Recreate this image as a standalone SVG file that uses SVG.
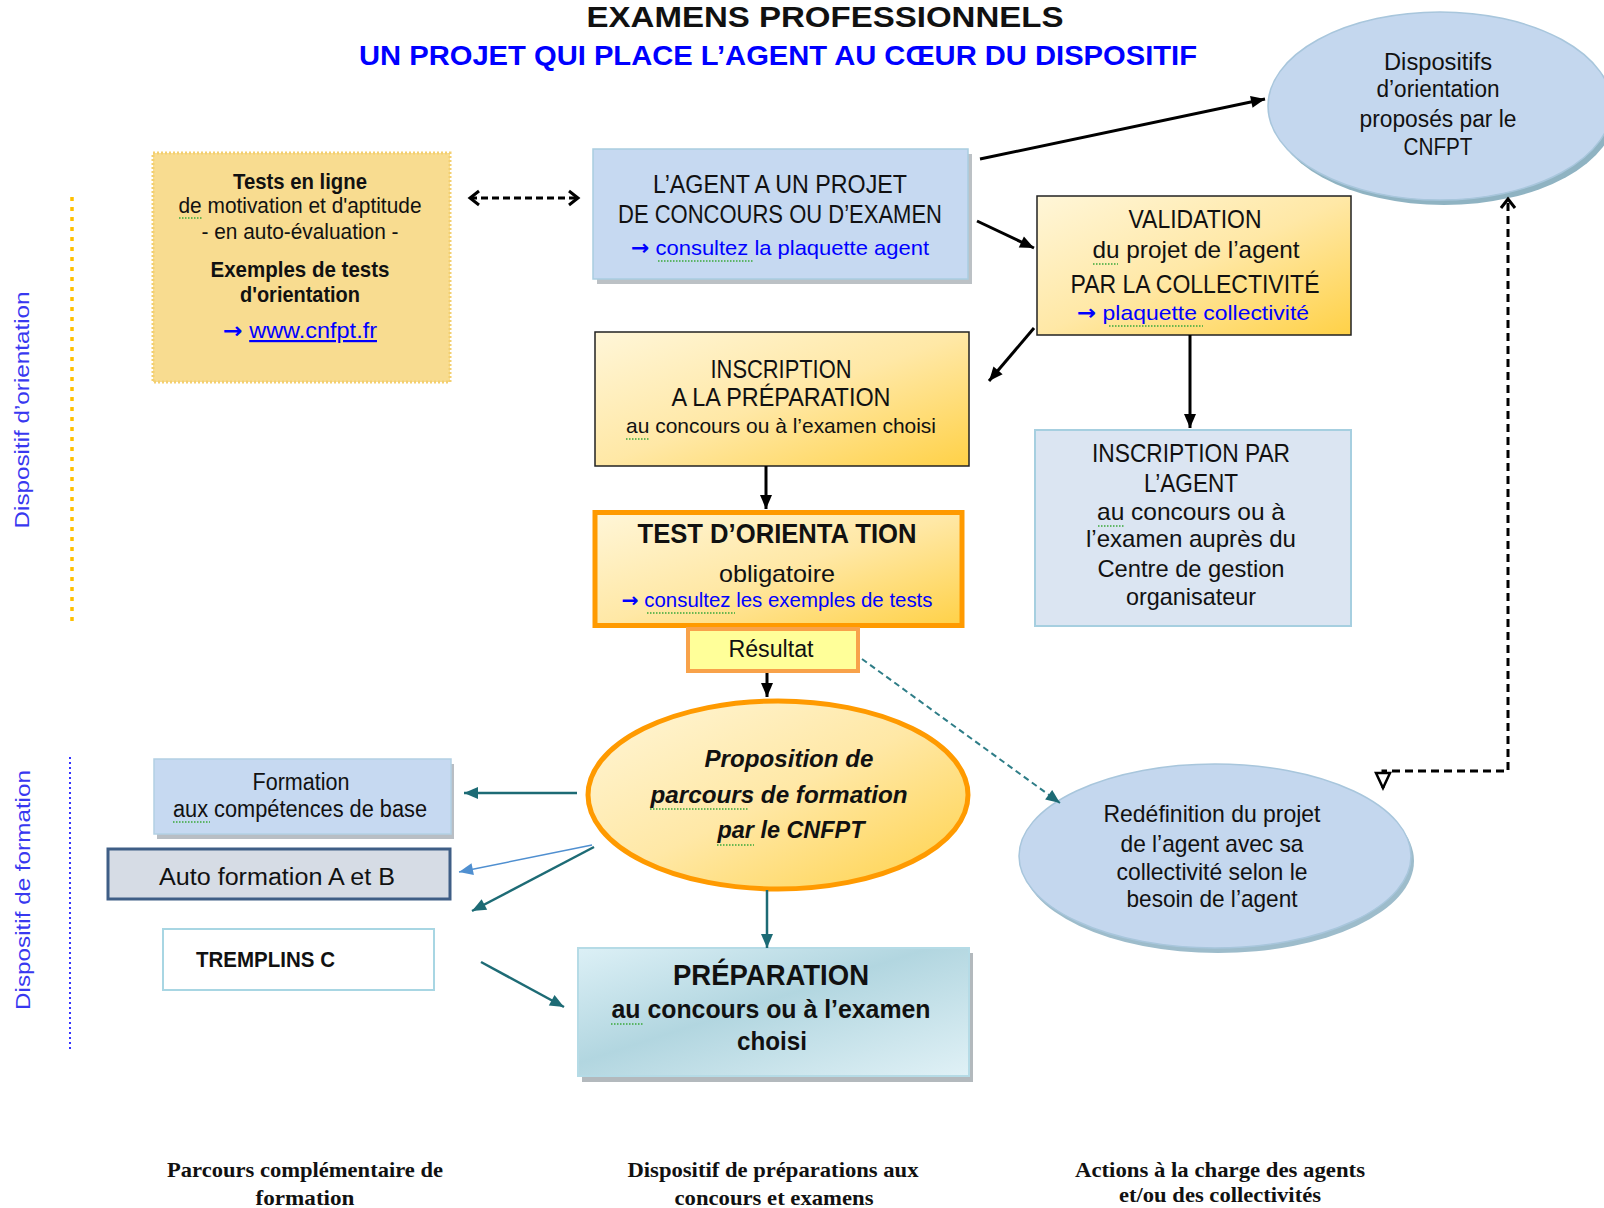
<svg xmlns="http://www.w3.org/2000/svg" width="1604" height="1208" viewBox="0 0 1604 1208">
<defs>
<style>
text{font-family:"Liberation Sans",Arial,sans-serif;fill:#111}
.c{text-anchor:middle}
.b{font-weight:bold}
.bi{font-weight:bold;font-style:italic}
.lk{fill:#0000ff}
.u{text-decoration:underline}
.ar{font-family:"DejaVu Sans",sans-serif;font-weight:bold}
.serif{font-family:"Liberation Serif","Times New Roman",serif;font-weight:bold}
.vert{fill:#3838f0}
.sq{fill:none;stroke:#3aa83a;stroke-width:1.4;stroke-dasharray:1.5 1.5}
.blk{fill:none;stroke:#000;stroke-width:3}
.teal{fill:none;stroke:#1d6b75;stroke-width:2.5}
</style>
<linearGradient id="yg" x1="0" y1="0" x2="1" y2="1"><stop offset="0" stop-color="#fff6d8"/><stop offset="0.5" stop-color="#ffe8a6"/><stop offset="1" stop-color="#ffd147"/></linearGradient>
<linearGradient id="pg" x1="0" y1="0" x2="1" y2="1"><stop offset="0" stop-color="#dcf0f6"/><stop offset="0.45" stop-color="#b2d6e0"/><stop offset="1" stop-color="#e0f1f6"/></linearGradient>
<marker id="ah" markerUnits="userSpaceOnUse" markerWidth="14" markerHeight="12" refX="14" refY="6" orient="auto" overflow="visible"><path d="M0,0 L14,6 L0,12 z" fill="#000"/></marker>
<marker id="aht" markerUnits="userSpaceOnUse" markerWidth="14" markerHeight="12" refX="14" refY="6" orient="auto" overflow="visible"><path d="M0,0 L14,6 L0,12 z" fill="#1d6b75"/></marker>
<marker id="ahb" markerUnits="userSpaceOnUse" markerWidth="14" markerHeight="12" refX="14" refY="6" orient="auto" overflow="visible"><path d="M0,0 L14,6 L0,12 z" fill="#4f8fd0"/></marker>
<marker id="chev" markerUnits="userSpaceOnUse" markerWidth="14" markerHeight="18" refX="11" refY="8" orient="auto-start-reverse" overflow="visible"><path d="M2,1 L11,8 L2,15" fill="none" stroke="#000" stroke-width="3"/></marker>
<marker id="otri" markerUnits="userSpaceOnUse" markerWidth="18" markerHeight="18" refX="16" refY="8" orient="auto-start-reverse" overflow="visible"><path d="M1,1 L16,8 L1,15 z" fill="#fff" stroke="#000" stroke-width="2.5"/></marker>
</defs>
<rect width="1604" height="1208" fill="#fff"/>

<g id="title">
<text x="825" y="27" class="c b" font-size="29" textLength="477" lengthAdjust="spacingAndGlyphs">EXAMENS PROFESSIONNELS</text>
<text x="778" y="65" class="c b lk" font-size="27" textLength="838" lengthAdjust="spacingAndGlyphs">UN PROJET QUI PLACE L’AGENT AU CŒUR DU DISPOSITIF</text>
</g>

<g id="side-labels">
<line x1="72" y1="197" x2="72" y2="627" stroke="#ffc000" stroke-width="3.5" stroke-dasharray="4 6"/>
<line x1="70" y1="757" x2="70" y2="1052" stroke="#3333ff" stroke-width="2" stroke-dasharray="2 3"/>
<text class="c vert" font-size="21" transform="translate(29,410) rotate(-90)" textLength="237" lengthAdjust="spacingAndGlyphs">Dispositif d’orientation</text>
<text class="c vert" font-size="21" transform="translate(30,890) rotate(-90)" textLength="240" lengthAdjust="spacingAndGlyphs">Dispositif de formation</text>
</g>

<g id="tests">
<rect x="153" y="153" width="297" height="229" fill="#f8dc90" stroke="#f3cf70" stroke-width="3" stroke-dasharray="2 2"/>
<text x="300" y="189" class="c b" font-size="22" textLength="134" lengthAdjust="spacingAndGlyphs">Tests en ligne</text>
<text x="300" y="213" class="c" font-size="22" textLength="243" lengthAdjust="spacingAndGlyphs">de motivation et d'aptitude</text>
<text x="300" y="239" class="c" font-size="22" textLength="197" lengthAdjust="spacingAndGlyphs">- en auto-évaluation -</text>
<text x="300" y="277" class="c b" font-size="22" textLength="179" lengthAdjust="spacingAndGlyphs">Exemples de tests</text>
<text x="300" y="302" class="c b" font-size="22" textLength="120" lengthAdjust="spacingAndGlyphs">d'orientation</text>
<text x="300" y="338" class="c lk" font-size="22" textLength="154" lengthAdjust="spacingAndGlyphs"><tspan class="ar">→</tspan> <tspan class="u">www.cnfpt.fr</tspan></text>
<path class="sq" d="M179,218 h24"/>
</g>

<g id="agent">
<rect x="597" y="154" width="375" height="130" fill="#9fa6ad" opacity="0.7"/>
<rect x="593" y="149" width="375" height="130" fill="#c6d9f1" stroke="#a9cde0" stroke-width="1.5"/>
<text x="780" y="193" class="c" font-size="25" textLength="254" lengthAdjust="spacingAndGlyphs">L’AGENT A UN PROJET</text>
<text x="780" y="223" class="c" font-size="25" textLength="324" lengthAdjust="spacingAndGlyphs">DE CONCOURS OU D’EXAMEN</text>
<text x="780" y="255" class="c lk" font-size="21" textLength="298" lengthAdjust="spacingAndGlyphs"><tspan class="ar">→</tspan> consultez la plaquette agent</text>
<path class="sq" d="M658,261 h95"/>
</g>

<g id="dispositifs">
<ellipse cx="1444" cy="111" rx="172" ry="94" fill="#8fb3c2"/>
<ellipse cx="1440" cy="106" rx="172" ry="94" fill="#c4d7ee" stroke="#a8c6dc" stroke-width="1.5"/>
<text x="1438" y="70" class="c" font-size="23" textLength="108" lengthAdjust="spacingAndGlyphs">Dispositifs</text>
<text x="1438" y="97" class="c" font-size="23" textLength="123" lengthAdjust="spacingAndGlyphs">d’orientation</text>
<text x="1438" y="127" class="c" font-size="23" textLength="157" lengthAdjust="spacingAndGlyphs">proposés par le</text>
<text x="1438" y="155" class="c" font-size="23" textLength="69" lengthAdjust="spacingAndGlyphs">CNFPT</text>
</g>

<g id="validation">
<rect x="1037" y="196" width="314" height="139" fill="url(#yg)" stroke="#222" stroke-width="1.5"/>
<text x="1195" y="228" class="c" font-size="25" textLength="133" lengthAdjust="spacingAndGlyphs">VALIDATION</text>
<text x="1196" y="258" class="c" font-size="24" textLength="207" lengthAdjust="spacingAndGlyphs">du projet de l’agent</text>
<text x="1195" y="293" class="c" font-size="25" textLength="249" lengthAdjust="spacingAndGlyphs">PAR LA COLLECTIVITÉ</text>
<text x="1193" y="320" class="c lk" font-size="21" textLength="232" lengthAdjust="spacingAndGlyphs"><tspan class="ar">→</tspan>  plaquette collectivité</text>
<path class="sq" d="M1093,264 h25 M1109,326 h94"/>
</g>

<g id="inscription-preparation">
<rect x="595" y="332" width="374" height="134" fill="url(#yg)" stroke="#222" stroke-width="1.5"/>
<text x="781" y="378" class="c" font-size="25" textLength="141" lengthAdjust="spacingAndGlyphs">INSCRIPTION</text>
<text x="781" y="406" class="c" font-size="25" textLength="219" lengthAdjust="spacingAndGlyphs">A LA PRÉPARATION</text>
<text x="781" y="433" class="c" font-size="21" textLength="310" lengthAdjust="spacingAndGlyphs">au concours ou à l’examen choisi</text>
<path class="sq" d="M626,439 h24"/>
</g>

<g id="inscription-agent">
<rect x="1035" y="430" width="316" height="196" fill="#dbe5f2" stroke="#a6cfe0" stroke-width="2"/>
<text x="1191" y="462" class="c" font-size="25" textLength="198" lengthAdjust="spacingAndGlyphs">INSCRIPTION PAR</text>
<text x="1191" y="492" class="c" font-size="25" textLength="94" lengthAdjust="spacingAndGlyphs">L’AGENT</text>
<text x="1191" y="520" class="c" font-size="24" textLength="188" lengthAdjust="spacingAndGlyphs">au concours ou à</text>
<text x="1191" y="547" class="c" font-size="24" textLength="210" lengthAdjust="spacingAndGlyphs">l’examen auprès du</text>
<text x="1191" y="577" class="c" font-size="24" textLength="187" lengthAdjust="spacingAndGlyphs">Centre de gestion</text>
<text x="1191" y="605" class="c" font-size="24" textLength="130" lengthAdjust="spacingAndGlyphs">organisateur</text>
<path class="sq" d="M1098,526 h26"/>
</g>

<g id="test-orientation">
<rect x="595" y="512.5" width="367" height="113" fill="url(#yg)" stroke="#ff9a00" stroke-width="5"/>
<text x="777" y="543" class="c b" font-size="27" textLength="279" lengthAdjust="spacingAndGlyphs">TEST D’ORIENTA TION</text>
<text x="777" y="582" class="c" font-size="24" textLength="116" lengthAdjust="spacingAndGlyphs">obligatoire</text>
<text x="777" y="607" class="c lk" font-size="20" textLength="311" lengthAdjust="spacingAndGlyphs"><tspan class="ar">→</tspan> consultez les exemples de tests</text>
<path class="sq" d="M647,613 h88"/>
</g>

<g id="resultat">
<rect x="688" y="629" width="170" height="42" fill="#ffff99" stroke="#f8a24a" stroke-width="4"/>
<text x="771" y="657" class="c" font-size="23" textLength="85" lengthAdjust="spacingAndGlyphs">Résultat</text>
</g>

<g id="proposition">
<ellipse cx="778" cy="795" rx="190" ry="94" fill="url(#yg)" stroke="#ff9a00" stroke-width="5"/>
<text x="789" y="767" class="c bi" font-size="24" textLength="169" lengthAdjust="spacingAndGlyphs">Proposition  de</text>
<text x="779" y="803" class="c bi" font-size="24" textLength="257" lengthAdjust="spacingAndGlyphs">parcours  de formation</text>
<text x="791" y="838" class="c bi" font-size="24" textLength="147" lengthAdjust="spacingAndGlyphs">par  le CNFPT</text>
<path class="sq" d="M650,809 h99 M717,845 h37"/>
</g>

<g id="redefinition">
<ellipse cx="1218" cy="861" rx="196" ry="92" fill="#9dbccb"/>
<ellipse cx="1215" cy="856" rx="196" ry="92" fill="#c4d7ee" stroke="#a8c6dc" stroke-width="1.5"/>
<text x="1212" y="822" class="c" font-size="24" textLength="217" lengthAdjust="spacingAndGlyphs">Redéfinition du projet</text>
<text x="1212" y="852" class="c" font-size="24" textLength="183" lengthAdjust="spacingAndGlyphs">de l’agent avec sa</text>
<text x="1212" y="880" class="c" font-size="24" textLength="191" lengthAdjust="spacingAndGlyphs">collectivité selon le</text>
<text x="1212" y="907" class="c" font-size="24" textLength="171" lengthAdjust="spacingAndGlyphs">besoin de l’agent</text>
</g>

<g id="formation-base">
<rect x="157" y="764" width="297" height="75" fill="#9aa3ab" opacity="0.7"/>
<rect x="154" y="759" width="297" height="75" fill="#c6d9f1" stroke="#b2d0e3" stroke-width="1.5"/>
<text x="301" y="790" class="c" font-size="23" textLength="97" lengthAdjust="spacingAndGlyphs">Formation</text>
<text x="300" y="817" class="c" font-size="23" textLength="254" lengthAdjust="spacingAndGlyphs">aux compétences de base</text>
<path class="sq" d="M173,822 h37"/>
</g>

<g id="auto-formation">
<rect x="108" y="849" width="342" height="50" fill="#d6dce5" stroke="#3f5e86" stroke-width="3"/>
<text x="277" y="885" class="c" font-size="23" textLength="236" lengthAdjust="spacingAndGlyphs">Auto formation A et B</text>
</g>

<g id="tremplins">
<rect x="163" y="929" width="271" height="61" fill="#fff" stroke="#a8d6e3" stroke-width="2"/>
<text x="196" y="967" class="b" font-size="22" textLength="139" lengthAdjust="spacingAndGlyphs">TREMPLINS C</text>
</g>

<g id="preparation">
<rect x="582" y="953" width="391" height="129" fill="#a0a7ac" opacity="0.8"/>
<rect x="578" y="948" width="391" height="128" fill="url(#pg)" stroke="#b5dbe6" stroke-width="2"/>
<text x="771" y="985" class="c b" font-size="29" textLength="196" lengthAdjust="spacingAndGlyphs">PRÉPARATION</text>
<text x="771" y="1018" class="c b" font-size="26" textLength="319" lengthAdjust="spacingAndGlyphs">au concours ou à l’examen</text>
<text x="772" y="1050" class="c b" font-size="26" textLength="70" lengthAdjust="spacingAndGlyphs">choisi</text>
<path class="sq" d="M611,1024 h32"/>
</g>

<g id="connectors">
<path class="blk" d="M470,198 L578,198" stroke-dasharray="7 4" marker-start="url(#chev)" marker-end="url(#chev)"/>
<path class="blk" d="M980,159 L1265,99" marker-end="url(#ah)"/>
<path class="blk" d="M977,221 L1034,248" marker-end="url(#ah)"/>
<path class="blk" d="M1034,328 L989,381" marker-end="url(#ah)"/>
<path class="blk" d="M1190,335 L1190,428" stroke-width="2.5" marker-end="url(#ah)"/>
<path class="blk" d="M766,466 L766,509" stroke-width="2.5" marker-end="url(#ah)"/>
<path class="blk" d="M767,673 L767,697" stroke-width="2.5" marker-end="url(#ah)"/>
<path class="blk" d="M1383,788 L1383,771 L1508,771 L1508,199" stroke-dasharray="8 5" marker-start="url(#otri)" marker-end="url(#chev)"/>
<path d="M862,659 L1060,803" fill="none" stroke="#2e7d87" stroke-width="2" stroke-dasharray="6 4" marker-end="url(#aht)"/>
<path class="teal" d="M577,793 L464,793" marker-end="url(#aht)"/>
<path d="M592,845 L459,872" fill="none" stroke="#4f8fd0" stroke-width="1.5" marker-end="url(#ahb)"/>
<path class="teal" d="M594,847 L472,911" marker-end="url(#aht)"/>
<path class="teal" d="M481,962 L564,1007" marker-end="url(#aht)"/>
<path class="teal" d="M767,890 L767,948" stroke-width="2" marker-end="url(#aht)"/>
</g>

<g id="bottom-labels">
<text x="305" y="1177" class="c serif" font-size="22" textLength="276" lengthAdjust="spacingAndGlyphs">Parcours complémentaire de</text>
<text x="305" y="1205" class="c serif" font-size="22" textLength="99" lengthAdjust="spacingAndGlyphs">formation</text>
<text x="773" y="1177" class="c serif" font-size="22" textLength="291" lengthAdjust="spacingAndGlyphs">Dispositif de préparations aux</text>
<text x="774" y="1205" class="c serif" font-size="22" textLength="199" lengthAdjust="spacingAndGlyphs">concours et examens</text>
<text x="1220" y="1177" class="c serif" font-size="22" textLength="290" lengthAdjust="spacingAndGlyphs">Actions à la charge des agents</text>
<text x="1220" y="1202" class="c serif" font-size="22" textLength="202" lengthAdjust="spacingAndGlyphs">et/ou des collectivités</text>
</g>
</svg>
